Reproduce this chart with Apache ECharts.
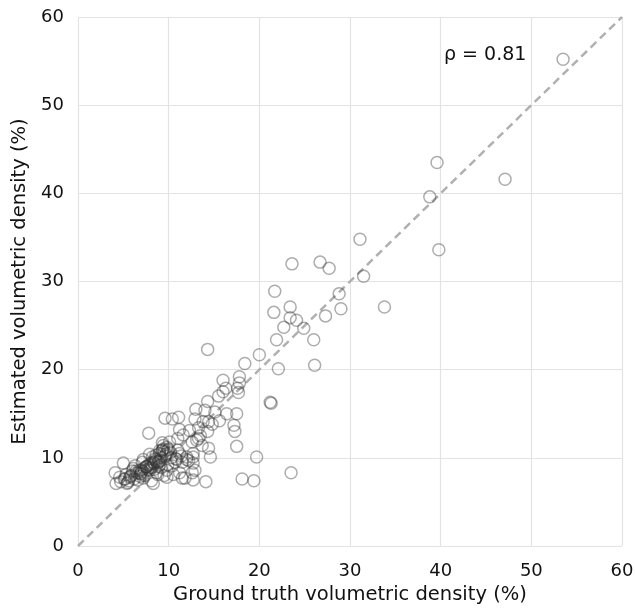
<!DOCTYPE html>
<html><head><meta charset="utf-8">
<script src="https://cdn.jsdelivr.net/npm/echarts@6/dist/echarts.min.js"></script>
<style>html,body{margin:0;padding:0;background:#fff}#c{width:635px;height:608px}</style>
</head><body><div id="c"></div>
<script>
const groundTruth = [53.5,39.6,47.1,38.8,31.1,39.8,23.6,26.7,27.7,31.5,33.8,21.7,28.8,23.4,29.0,27.3,21.6,23.4,24.1,24.9,22.7,21.9,26.0,14.3,20.0,18.4,22.1,26.1,
16.0,17.8,17.8,17.6,17.7,16.3,16.0,15.5,21.3,21.2,14.3,13.0,14.0,15.1,16.4,17.5,
9.6,10.4,11.1,12.9,13.8,14.4,17.2,17.3,7.8,11.2,13.3,14.3,17.5,13.3,11.0,12.6,13.7,14.4,9.4,9.3,11.0,12.7,12.0,14.6,19.7,11.5,12.7,8.3,13.1,
23.5,18.1,19.4,14.1,12.7,11.5,12.6,12.9,
5.0,4.1,4.2,5.4,4.6,5.7,6.8,7.2,8.2,9.0,9.8,9.3,10.1,11.2,12.0,12.7,7.9,8.7,9.8,11.2,8.3,9.8,6.1,6.5,7.2,9.0,9.9,10.7,10.5,11.8,
4.7,5.2,5.9,6.3,6.9,7.5,8.0,8.6,9.1,9.5,10.2,10.8,6.6,7.7,8.4,9.3,8.9,10.0,7.0,8.1,5.5,6.0,11.6,12.3,13.5,14.8,15.6,
5.1,5.3,5.6,5.8,6.2,6.7,7.1,7.4,7.6,8.0,8.5,8.8,9.2,9.6,9.4,8.9,8.2,7.3,6.8,6.4,10.4,10.9,11.4,12.2,9.9,9.0,8.6,7.9,
7.0,7.5,8.1,8.4,8.9,9.2,9.7,7.8,8.6,9.5,10.3,6.9];
const estimated = [55.2,43.5,41.6,39.6,34.8,33.6,32.0,32.2,31.5,30.6,27.1,28.9,28.6,27.1,26.9,26.1,26.5,25.9,25.6,24.7,24.8,23.4,23.4,22.3,21.7,20.7,20.1,20.5,
18.8,19.2,18.5,17.9,17.4,17.9,17.5,17.0,16.2,16.3,16.4,15.5,15.4,15.2,15.0,15.0,
14.5,14.4,14.6,14.4,14.1,14.1,13.7,13.0,12.8,13.2,13.4,13.0,11.3,12.2,12.2,11.8,11.4,11.1,11.4,10.9,10.9,10.5,10.1,10.1,10.1,9.5,9.4,9.5,12.0,
8.3,7.6,7.4,7.3,7.5,7.7,8.3,8.6,
9.4,8.3,7.1,7.1,7.8,7.8,8.6,9.8,10.1,10.5,11.2,11.7,11.8,10.5,9.8,10.1,8.6,8.3,7.8,8.3,7.1,8.6,8.8,8.3,7.7,9.2,9.2,9.5,8.1,7.7,
7.3,7.6,8.0,9.1,8.2,9.0,8.9,10.3,9.7,8.0,10.6,9.9,7.5,8.7,9.4,10.8,9.0,11.0,8.4,7.4,7.2,8.5,12.6,13.1,12.5,13.8,14.2,
7.6,8.1,7.4,7.9,7.6,8.3,9.5,8.0,9.0,9.4,9.9,8.1,8.9,10.2,11.0,9.6,8.9,8.8,7.9,8.5,9.1,9.8,10.2,9.7,10.9,10.8,9.6,10.4,
8.6,9.0,9.3,8.7,9.5,10.0,10.4,9.2,9.8,10.7,10.0,8.2];
const diagonal = [[0,0],[60,60]];
const axisTicks = [0,10,20,30,40,50,60];
const rhoText = 'ρ = 0.81';

const pts = groundTruth.map((x,i)=>[x, estimated[i]]);
const font = 'DejaVu Sans';
const chart = echarts.init(document.getElementById('c'));
const axisCommon = {
  type:'value', min:axisTicks[0], max:axisTicks[axisTicks.length-1], interval:10,
  axisLine:{show:false}, axisTick:{show:false},
  splitLine:{show:true, lineStyle:{color:'#e3e3e3', width:1.2}},
  nameLocation:'middle', nameTextStyle:{color:'#111', fontSize:19.5, fontFamily:font}
};
chart.setOption({
  animation:false,
  grid:{left:78, right:13, top:17, bottom:62, containLabel:false, outerBoundsMode:'none'},
  xAxis:Object.assign({}, axisCommon, {name:'Ground truth volumetric density (%)', nameGap:39,
    axisLabel:{color:'#111', fontSize:18, fontFamily:font, margin:16}}),
  yAxis:Object.assign({}, axisCommon, {name:'Estimated volumetric density (%)', nameGap:46,
    axisLabel:{color:'#111', fontSize:18, fontFamily:font, margin:14}}),
  series:[
    {type:'line', data:diagonal, symbol:'none', silent:true,
     lineStyle:{color:'#b0b0b0', width:2.5, type:[8,5]}, z:1},
    {type:'scatter', data:pts, symbol:'circle', symbolSize:12,
     itemStyle:{color:'rgba(0,0,0,0)', borderColor:'rgba(50,50,50,0.5)', borderWidth:1.5}, z:2}
  ],
  graphic:[{type:'text', left:444, top:46, style:{text:rhoText, fontSize:19, fontFamily:font, fill:'#111'}}]
});
</script></body></html>
